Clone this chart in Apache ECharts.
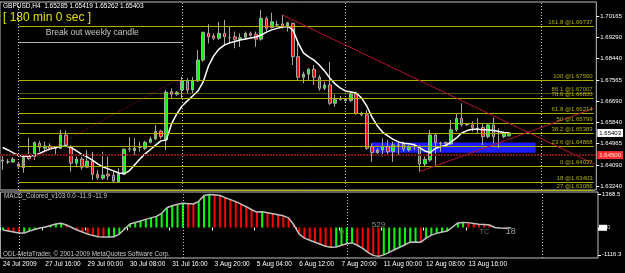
<!DOCTYPE html>
<html>
<head>
<meta charset="utf-8">
<script src="https://cdn.jsdelivr.net/npm/echarts@6/dist/echarts.min.js"></script>
<style>
  html, body { margin: 0; padding: 0; background: #000; }
  #chart { width: 625px; height: 273px; }
</style>
</head>
<body>
<div id="chart"></div>
<script>
// GBPUSD H4 bars
const opens = [
  1.6430, 1.6423, 1.6422, 1.6414, 1.6399, 1.6447, 1.6444, 1.6498, 1.6478, 1.6487,
  1.6478, 1.6478, 1.6532, 1.6482, 1.6417, 1.6434, 1.6401, 1.6426, 1.6372, 1.6356,
  1.6373, 1.6368, 1.6342, 1.6372, 1.6474, 1.6468, 1.6482, 1.6478, 1.6502, 1.6516,
  1.6548, 1.6512, 1.6708, 1.6698, 1.6715, 1.6752, 1.6715, 1.6752, 1.6837, 1.6946,
  1.6935, 1.6926, 1.6946, 1.6928, 1.6932, 1.6922, 1.6930, 1.6946, 1.6942, 1.6922,
  1.7007, 1.6970, 1.6980, 1.6984, 1.6976, 1.6987, 1.6851, 1.6767, 1.6779, 1.6800,
  1.6767, 1.6722, 1.6736, 1.6661, 1.6677, 1.6672, 1.6672, 1.6699, 1.6620, 1.6614,
  1.6484, 1.6460, 1.6471, 1.6484, 1.6464, 1.6491, 1.6496, 1.6471, 1.6484, 1.6482,
  1.6414, 1.6430, 1.6532, 1.6498, 1.6501, 1.6496, 1.6553, 1.6600, 1.6574, 1.6573,
  1.6559, 1.6563, 1.6525, 1.6573, 1.6539, 1.6525, 1.65285
];
const closes = [
  1.6426, 1.6422, 1.6434, 1.6403, 1.6440, 1.6436, 1.6501, 1.6482, 1.6487, 1.6478,
  1.6477, 1.6532, 1.6491, 1.6417, 1.6434, 1.6401, 1.6426, 1.6372, 1.6358, 1.6369,
  1.6365, 1.6345, 1.6373, 1.6474, 1.6475, 1.6478, 1.6483, 1.6502, 1.6516, 1.6546,
  1.6525, 1.6706, 1.6698, 1.6706, 1.6752, 1.6715, 1.6752, 1.6837, 1.6950, 1.6932,
  1.6926, 1.6946, 1.6932, 1.6928, 1.6922, 1.6928, 1.6946, 1.6938, 1.6922, 1.7007,
  1.6966, 1.6993, 1.6981, 1.6973, 1.6989, 1.6851, 1.6767, 1.6780, 1.6800, 1.6767,
  1.6722, 1.6736, 1.6661, 1.6677, 1.6681, 1.6677, 1.6699, 1.6620, 1.6614, 1.6478,
  1.6460, 1.6471, 1.6484, 1.6464, 1.6491, 1.6490, 1.6474, 1.6482, 1.6485, 1.6414,
  1.6433, 1.6532, 1.6501, 1.6499, 1.6496, 1.6553, 1.6600, 1.6573, 1.6575, 1.6563,
  1.6560, 1.6525, 1.6573, 1.6525, 1.6538, 1.6539, 1.65403
];
const highs = [
  1.6446, 1.6434, 1.6442, 1.6423, 1.6442, 1.6520, 1.6505, 1.6508, 1.6505, 1.6498,
  1.6487, 1.6553, 1.6550, 1.6491, 1.6444, 1.6444, 1.6471, 1.6464, 1.6390, 1.6464,
  1.6444, 1.6383, 1.6397, 1.6478, 1.6523, 1.6519, 1.6505, 1.6508, 1.6525, 1.6573,
  1.6553, 1.6715, 1.6722, 1.6711, 1.6768, 1.6764, 1.6768, 1.6878, 1.6953, 1.6983,
  1.6946, 1.6993, 1.7000, 1.6973, 1.6953, 1.6946, 1.6953, 1.6953, 1.6953, 1.7041,
  1.7014, 1.7030, 1.6997, 1.7021, 1.6993, 1.6989, 1.6905, 1.6790, 1.6804, 1.6817,
  1.6776, 1.6749, 1.6830, 1.6695, 1.6691, 1.6681, 1.6708, 1.6708, 1.6627, 1.6634,
  1.6498, 1.6478, 1.6519, 1.6512, 1.6505, 1.6505, 1.6505, 1.6491, 1.6498, 1.6491,
  1.6444, 1.6553, 1.6539, 1.6505, 1.6505, 1.6593, 1.6620, 1.6661, 1.6580, 1.6587,
  1.6600, 1.6580, 1.6580, 1.6604, 1.6559, 1.6546, 1.65419
];
const lows = [
  1.6390, 1.6414, 1.6418, 1.6397, 1.6378, 1.6430, 1.6430, 1.6464, 1.6464, 1.6471,
  1.6448, 1.6474, 1.6482, 1.6383, 1.6403, 1.6390, 1.6397, 1.6349, 1.6349, 1.6349,
  1.6349, 1.6336, 1.6338, 1.6369, 1.6464, 1.6451, 1.6464, 1.6471, 1.6498, 1.6512,
  1.6516, 1.6471, 1.6679, 1.6692, 1.6679, 1.6703, 1.6703, 1.6749, 1.6830, 1.6905,
  1.6919, 1.6919, 1.6898, 1.6905, 1.6885, 1.6891, 1.6919, 1.6932, 1.6891, 1.6916,
  1.6953, 1.6966, 1.6973, 1.6966, 1.6953, 1.6817, 1.6756, 1.6743, 1.6756, 1.6736,
  1.6712, 1.6715, 1.6654, 1.6647, 1.6672, 1.6667, 1.6667, 1.6614, 1.6609, 1.6471,
  1.6423, 1.6455, 1.6444, 1.6451, 1.6423, 1.6451, 1.6464, 1.6464, 1.6471, 1.6383,
  1.6401, 1.6423, 1.6410, 1.6464, 1.6491, 1.6491, 1.6546, 1.6566, 1.6569, 1.6546,
  1.6539, 1.6491, 1.6519, 1.6498, 1.6478, 1.6519, 1.65262
];
// white moving average
const maValues = [
  1.6481, 1.6471, 1.6459, 1.6449, 1.6445, 1.6445, 1.6449, 1.6457, 1.6467, 1.6475,
  1.6481, 1.6485, 1.6487, 1.6481, 1.6467, 1.6453, 1.6443, 1.6430, 1.6414, 1.6402,
  1.6394, 1.6386, 1.6377, 1.6375, 1.6386, 1.6410, 1.6434, 1.6455, 1.6473, 1.6491,
  1.6508, 1.6512, 1.6577, 1.6618, 1.6650, 1.6671, 1.6691, 1.6711, 1.6748, 1.6813,
  1.6854, 1.6882, 1.6898, 1.6907, 1.6913, 1.6919, 1.6923, 1.6927, 1.6931, 1.6939,
  1.6951, 1.6960, 1.6966, 1.6972, 1.6974, 1.6960, 1.6907, 1.6866, 1.6850, 1.6837,
  1.6817, 1.6793, 1.6764, 1.6740, 1.6723, 1.6711, 1.6707, 1.6703, 1.6683, 1.6650,
  1.6605, 1.6569, 1.6544, 1.6528, 1.6514, 1.6504, 1.6498, 1.6496, 1.6492, 1.6481,
  1.6467, 1.6461, 1.6477, 1.6485, 1.6489, 1.6504, 1.6520, 1.6540, 1.6550, 1.6555,
  1.6555, 1.6553, 1.6553, 1.6550, 1.6546, 1.6542, 1.6540
];
// MACD_Colored histogram / line
const macdValues = [
  -104, -145, -186, -228, -228, -145, -83, -21, 21, 83,
  145, 174, 104, 0, -104, -186, -269, -331, -381, -393,
  -393, -381, -269, -62, 145, 207, 269, 331, 393, 455,
  580, 807, 890, 952, 990, 975, 960, 1068, 1304, 1346,
  1340, 1304, 1221, 1139, 1056, 952, 849, 725, 630, 640,
  600, 559, 518, 476, 393, 104, -269, -435, -518, -600,
  -683, -766, -807, -795, -725, -662, -629, -725, -849, -1014,
  -1139, -1180, -1118, -1014, -911, -807, -704, -600, -588, -600,
  -435, -311, -240, -186, -145, 21, 186, 207, 199, 166,
  132, 124, 104, 0, -21, -33, -11.9
];
const timeLabels = ['24 Jul 2009', '27 Jul 16:00', '29 Jul 00:00', '30 Jul 08:00', '31 Jul 16:00',
  '3 Aug 20:00', '5 Aug 04:00', '6 Aug 12:00', '7 Aug 20:00', '11 Aug 00:00', '12 Aug 08:00', '13 Aug 16:00'];
const priceTicks = [1.70165, 1.69290, 1.68440, 1.67565, 1.66690, 1.65840, 1.64965, 1.64090, 1.63240];
const macdTicks = [1368.5, -1116.3];
const fibLevels = ['161.8', '100', '86.1', '78.6', '61.8', '50', '38.2', '23.6', '0', '18', '27'];
const fibPrices = [1.69737, 1.67560, 1.67007, 1.66806, 1.66214, 1.65799, 1.65383, 1.64868, 1.64037, 1.63403, 1.63086];
const separatorBars = [3, 34, 65, 102];
const slotCount = 113;

const FONT = '"Liberation Sans", Arial, sans-serif';
const FIB = '#b0b000';
const TREND = '#b8122e';
const GRID_LINE = '#c0c0c0';

const slots = Array.from({ length: slotCount }, (_, i) => i);
const candles = opens.map((o, i) => [o, closes[i], lows[i], highs[i]]);
// histogram is green while rising, red while falling
const macdBars = macdValues.map((v, i) => ({
  value: v,
  itemStyle: { color: i > 0 && v < macdValues[i - 1] ? '#ff0000' : '#00ff00' }
}));

const fibLines = fibPrices.map((p, i) => [
  {
    coord: [3, p],
    lineStyle: { color: FIB, width: 1, type: fibLevels[i] === '86.1' ? 'dotted' : 'solid' },
    label: {
      show: true, position: 'insideEndTop', distance: [1, 1],
      formatter: fibLevels[i] + ' @' + p.toFixed(5),
      color: FIB, fontSize: 6, fontFamily: FONT
    }
  },
  { coord: [slotCount - 1, p] }
]);

const sepLines = () => separatorBars.map(b => ({
  xAxis: b, lineStyle: { color: '#c8c8c8', width: 1, type: [1, 2] }, label: { show: false }
}));

const chart = echarts.init(document.getElementById('chart'), null, { renderer: 'canvas' });

chart.setOption({
  backgroundColor: '#000',
  animation: false,
  grid: [
    { left: 0, right: 27, top: 2, height: 188, show: true, borderColor: GRID_LINE, borderWidth: 1, backgroundColor: 'transparent' },
    { left: 0, right: 27, top: 192, height: 66, show: true, borderColor: GRID_LINE, borderWidth: 1, backgroundColor: 'transparent' }
  ],
  xAxis: [
    {
      type: 'category', gridIndex: 0, data: slots, boundaryGap: true,
      axisLine: { show: false }, axisTick: { show: false }, axisLabel: { show: false }, splitLine: { show: false }
    },
    {
      type: 'category', gridIndex: 1, data: slots, boundaryGap: true,
      axisLine: { show: false },
      axisTick: {
        show: true, length: 3, lineStyle: { color: '#fff' },
        interval: (i) => i % 8 === 0 && i / 8 < timeLabels.length
      },
      axisLabel: {
        show: true, color: '#fff', fontSize: 6.5, fontFamily: FONT, margin: 3, align: 'left',
        interval: (i) => i % 8 === 0 && i / 8 < timeLabels.length,
        formatter: (v, i) => timeLabels[i / 8] || ''
      },
      splitLine: { show: false }
    }
  ],
  yAxis: [
    {
      type: 'value', gridIndex: 0, position: 'right', min: 1.6308, max: 1.70735,
      splitLine: { show: false }, axisLine: { show: false },
      axisTick: { show: true, length: 3, lineStyle: { color: '#fff' }, customValues: priceTicks },
      axisLabel: { color: '#fff', fontSize: 6, fontFamily: FONT, margin: 4, customValues: priceTicks, formatter: v => v.toFixed(5) }
    },
    {
      type: 'value', gridIndex: 1, position: 'right', min: -1246, max: 1450,
      splitLine: { show: false }, axisLine: { show: false },
      axisTick: { show: true, length: 3, lineStyle: { color: '#fff' }, customValues: macdTicks },
      axisLabel: { color: '#fff', fontSize: 6, fontFamily: FONT, margin: 4, customValues: macdTicks, formatter: v => String(v) }
    }
  ],
  graphic: [
    { type: 'text', left: 3, top: 3, style: { text: 'GBPUSD,H4  1.65285 1.65419 1.65262 1.65403', fill: '#fff', font: '6.5px ' + FONT } },
    { type: 'text', left: 3, top: 12, style: { text: '[ 180 min 0 sec ]', fill: '#e0e000', font: '12px ' + FONT } },
    { type: 'text', left: 4, top: 193, style: { text: 'MACD_Colored_v103 0.0 -11.9 -11.9', fill: '#c8c8c8', font: '6.3px ' + FONT } },
    { type: 'text', left: 3, top: 251, style: { text: 'ODL-MetaTrader, \u00a9 2001-2009 MetaQuotes Software Corp.', fill: '#c8c8c8', font: '6.3px ' + FONT } }
  ],
  series: [
    {
      type: 'candlestick', xAxisIndex: 0, yAxisIndex: 0, data: candles, barWidth: 3,
      itemStyle: { color: '#00ff00', color0: '#ff0000', borderColor: '#a8a8a8', borderColor0: '#a8a8a8', borderWidth: 1 },
      markArea: {
        silent: true,
        itemStyle: { color: '#1c1cff' },
        data: [[{ coord: [70, 1.6501] }, { coord: [101, 1.6460] }]]
      },
      markLine: {
        silent: true, symbol: ['none', 'none'], animation: false, precision: 6,
        data: [
          ...sepLines(),
          ...fibLines,
          [
            { coord: [3, 1.64037], lineStyle: { color: TREND, width: 1, type: [1, 2] }, label: { show: false } },
            { coord: [33, 1.67560] }
          ],
          [
            { coord: [53, 1.7021], lineStyle: { color: TREND, width: 1, type: 'solid' }, label: { show: false } },
            { coord: [112, 1.6415] }
          ],
          [
            { coord: [79, 1.6383], lineStyle: { color: TREND, width: 1, type: 'solid' }, label: { show: false } },
            { coord: [112, 1.6640] }
          ],
          [
            {
              coord: [3, 1.6911], lineStyle: { color: '#b4b4b4', width: 1, type: 'solid' },
              label: {
                show: true, position: 'middle', formatter: 'Break out weekly candle', offset: [-8, 0],
                color: '#c8c8c8', fontSize: 8.6, fontFamily: FONT, backgroundColor: '#000', padding: [0, 1]
              }
            },
            { coord: [34, 1.6911] }
          ],
          {
            yAxis: 1.64500, lineStyle: { color: '#7e1414', width: 2, type: [2, 1] },
            label: {
              show: true, position: 'end', distance: 1, formatter: '1.64500',
              color: '#ffdede', backgroundColor: '#ff3030', fontSize: 6, fontFamily: FONT, padding: [1, 2]
            }
          },
          {
            yAxis: 1.65403, lineStyle: { color: 'transparent', width: 0 },
            label: {
              show: true, position: 'end', distance: 1, formatter: '1.65403',
              color: '#000', backgroundColor: '#fff', fontSize: 6, fontFamily: FONT, padding: [1, 2]
            }
          }
        ]
      }
    },
    {
      type: 'line', xAxisIndex: 0, yAxisIndex: 0, data: maValues, symbol: 'none',
      lineStyle: { color: '#fff', width: 1.5 }, z: 4
    },
    {
      type: 'bar', xAxisIndex: 1, yAxisIndex: 1, data: macdBars, barWidth: 2,
      markLine: {
        silent: true, symbol: ['none', 'none'], animation: false, precision: 2,
        data: [
          ...sepLines(),
          {
            yAxis: -11.9, lineStyle: { color: 'transparent', width: 0 },
            label: {
              show: true, position: 'end', distance: 1, formatter: '{a|}{b|0}',
              rich: {
                a: { backgroundColor: '#fff', width: 8, height: 6 },
                b: { color: '#c8c8c8', fontSize: 6, fontFamily: FONT }
              }
            }
          }
        ]
      }
    },
    {
      type: 'line', xAxisIndex: 1, yAxisIndex: 1, data: macdValues, symbol: 'none',
      lineStyle: { color: '#c0c0c0', width: 1.5 }, z: 4,
      markPoint: {
        symbolSize: 0, silent: true,
        data: [
          { coord: [71, 0], label: { show: true, formatter: '529', color: '#8c8c8c', fontSize: 8, fontFamily: FONT, offset: [0, -3] } },
          { coord: [64, -184], label: { show: true, formatter: 'M', color: '#7a7a7a', fontSize: 6, fontFamily: FONT } },
          { coord: [91, -184], label: { show: true, formatter: 'TC', color: '#6e6e6e', fontSize: 7, fontFamily: FONT } },
          { coord: [96, -184], label: { show: true, formatter: '18', color: '#a0a0a0', fontSize: 9, fontFamily: FONT } }
        ]
      }
    }
  ]
});
</script>
</body>
</html>
